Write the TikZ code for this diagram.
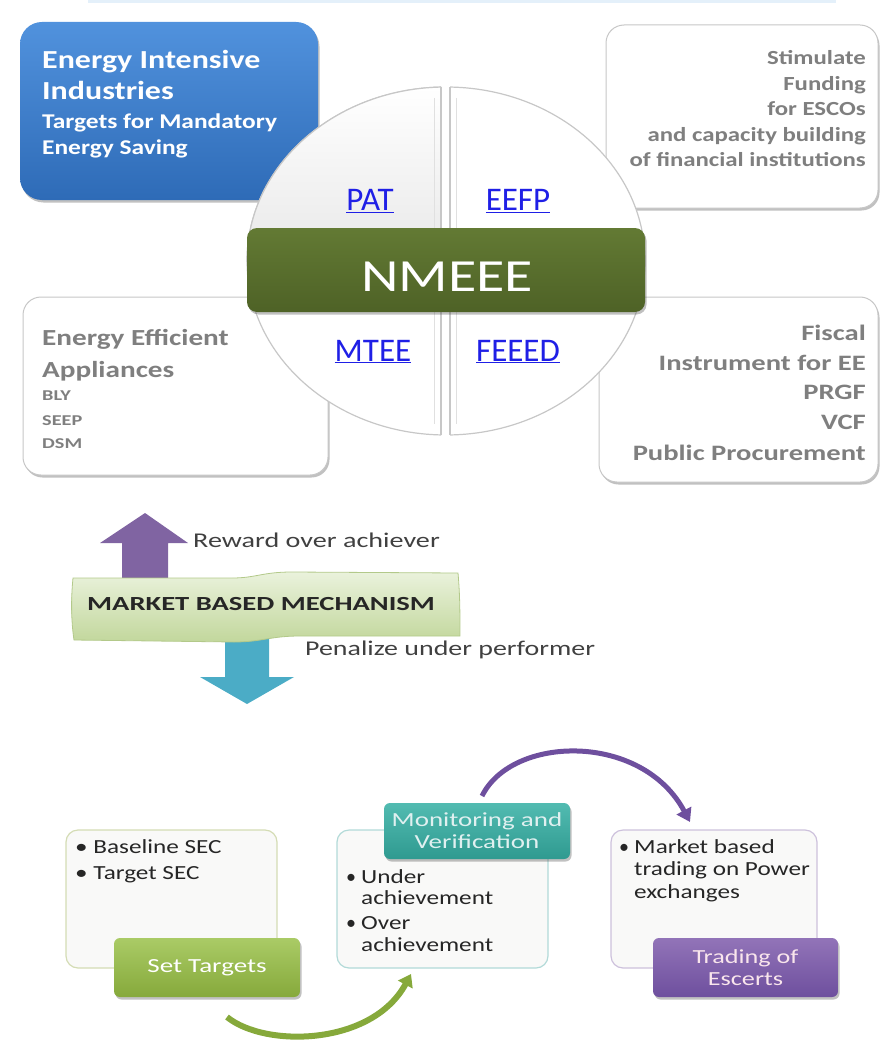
\documentclass[tikz,border=0pt]{standalone}
\usepackage{fontspec}
\usepackage{graphicx}
\setmainfont{Carlito}
\usetikzlibrary{shadows,arrows.meta}
\definecolor{blueA}{HTML}{5192DD}
\definecolor{blueB}{HTML}{2E6BB7}
\definecolor{oliveA}{HTML}{637A34}
\definecolor{oliveB}{HTML}{4E6226}
\definecolor{grnA}{HTML}{AACB66}
\definecolor{grnB}{HTML}{86A93B}
\definecolor{tealA}{HTML}{52BBB1}
\definecolor{tealB}{HTML}{2F9A90}
\definecolor{purA}{HTML}{9274B8}
\definecolor{purB}{HTML}{6E4F9E}
\definecolor{uparrow}{HTML}{8064A2}
\definecolor{downarrow}{HTML}{4BACC6}
\definecolor{graytxt}{HTML}{7F7F7F}
\definecolor{linkblue}{HTML}{1F1FE6}
\definecolor{darktxt}{HTML}{262626}
\definecolor{midtxt}{HTML}{404040}
\definecolor{topline}{HTML}{E4F0FA}
\definecolor{bannerA}{HTML}{EAF2DC}
\definecolor{bannerB}{HTML}{C2D79C}
\definecolor{bannerE}{HTML}{B3C98A}
\definecolor{bOne}{HTML}{D4DCB4}
\definecolor{bTwo}{HTML}{B2DAD8}
\definecolor{bThree}{HTML}{CDC1DC}
\definecolor{boxfill}{HTML}{F9F9F8}
\newcommand\myfs[1]{\fontsize{#1}{#1}\selectfont}
\newcommand\hs[2]{\scalebox{#1}[1]{#2}}
\begin{document}
\begin{tikzpicture}[x=1pt,y=-1pt,
  shad/.style={drop shadow={shadow xshift=1.5pt,shadow yshift=-2.5pt,opacity=0.35,fill=black!70}},
  sidebox/.style={draw=black!22,line width=1pt,fill=white,rounded corners=18pt,shad},
  stepbox/.style={draw=#1,line width=1.2pt,fill=boxfill,rounded corners=12pt},
  colbox/.style={rounded corners=6pt,shad,text=white,font=\myfs{20},align=center,inner sep=0pt},
  wt/.style={inner sep=0pt,text=white},
  gt/.style={inner sep=0pt,text=graytxt,font=\bfseries\myfs{20}},
  dt/.style={inner sep=0pt,text=darktxt,font=\myfs{20}},
  lk/.style={inner sep=0pt,text=linkblue,font=\myfs{33},anchor=base},
  qfill/.style={fill=white,draw=black!22,line width=1.2pt}]
\useasboundingbox (0,0) rectangle (880,1043);
\fill[topline] (88,0) rectangle (836,3);

% ---------- top boxes ----------
\node[rounded corners=22pt,top color=blueA,bottom color=blueB,shad,minimum width=298pt,minimum height=178pt] (eii) at (169,111) {};
\node[wt,anchor=base west,font=\bfseries\myfs{26}] (eii1) at (42,69) {\hs{1.23}{Energy Intensive}};
\node[wt,anchor=base west,font=\bfseries\myfs{26}] (eii2) at (42,100) {\hs{1.23}{Industries}};
\node[wt,anchor=base west,font=\bfseries\myfs{21}] (eii3) at (42,129) {\hs{1.21}{Targets for Mandatory}};
\node[wt,anchor=base west,font=\bfseries\myfs{21}] (eii4) at (42,155) {\hs{1.21}{Energy Saving}};

\node[sidebox,minimum width=272pt,minimum height=183pt] (eefpbox) at (742,116.5) {};
\node[gt,anchor=base east,font=\bfseries\myfs{20}] (s1) at (866,65) {\hs{1.24}{Stimulate}};
\node[gt,anchor=base east,font=\bfseries\myfs{20}] (s2) at (866,90.5) {\hs{1.24}{Funding}};
\node[gt,anchor=base east,font=\bfseries\myfs{20}] (s3) at (866,116) {\hs{1.24}{for ESCOs}};
\node[gt,anchor=base east,font=\bfseries\myfs{20}] (s4) at (866,141.5) {\hs{1.24}{and capacity building}};
\node[gt,anchor=base east,font=\bfseries\myfs{20}] (s5) at (866,167) {\hs{1.24}{of financial institutions}};

\node[sidebox,minimum width=305pt,minimum height=178pt] (mteebox) at (175.5,386) {};
\node[gt,anchor=base west,font=\bfseries\myfs{23}] (a1) at (42,345) {\hs{1.27}{Energy Efficient}};
\node[gt,anchor=base west,font=\bfseries\myfs{23}] (a2) at (42,377) {\hs{1.27}{Appliances}};
\node[gt,anchor=base west,font=\bfseries\myfs{15}] (a3) at (42,400) {\hs{1.35}{BLY}};
\node[gt,anchor=base west,font=\bfseries\myfs{15}] (a4) at (42,425) {\hs{1.35}{SEEP}};
\node[gt,anchor=base west,font=\bfseries\myfs{15}] (a5) at (42,448) {\hs{1.35}{DSM}};

\node[sidebox,minimum width=279pt,minimum height=185pt] (feeedbox) at (738.5,389.5) {};
\node[gt,anchor=base east,font=\bfseries\myfs{22}] (f1) at (866,340) {\hs{1.3}{Fiscal}};
\node[gt,anchor=base east,font=\bfseries\myfs{22}] (f2) at (866,370) {\hs{1.3}{Instrument for EE}};
\node[gt,anchor=base east,font=\bfseries\myfs{22}] (f3) at (866,399) {\hs{1.3}{PRGF}};
\node[gt,anchor=base east,font=\bfseries\myfs{22}] (f4) at (866,429) {\hs{1.3}{VCF}};
\node[gt,anchor=base east,font=\bfseries\myfs{22}] (f5) at (866,460) {\hs{1.3}{Public Procurement}};

% ---------- circle ----------
\begin{scope}
\clip (240,78) rectangle (441,442);
\path[qfill] (446,261) ellipse [x radius=199pt,y radius=174pt];
\end{scope}
\begin{scope}
\clip (240,78) rectangle (441,261);
\path[top color=white,bottom color=black!18] (446,261) ellipse [x radius=199pt,y radius=174pt];
\draw[black!22,line width=1.2pt] (446,261) ellipse [x radius=199pt,y radius=174pt];
\end{scope}
\begin{scope}
\clip (450,78) rectangle (652,442);
\path[qfill] (446,261) ellipse [x radius=199pt,y radius=174pt];
\end{scope}
\draw[black!22,line width=1.2pt] (441,87) -- (441,435);
\draw[black!22,line width=1.2pt] (450,87) -- (450,435);
\draw[black!12,line width=1pt] (434,98) -- (434,424);
\draw[black!12,line width=1pt] (456,98) -- (456,424);

\node[lk] (pat) at (370,211) {\underline{PAT}};
\node[lk] (eefp) at (518,211) {\underline{EEFP}};
\node[lk] (mtee) at (373,361) {\underline{MTEE}};
\node[lk] (feeed) at (518,361) {\underline{FEEED}};

\node[rounded corners=10pt,top color=oliveA,bottom color=oliveB,shad,minimum width=398pt,minimum height=84pt] (bar) at (446,270) {};
\node[wt,anchor=base,font=\myfs{46}] (nmeee) at (447,291) {\hs{1.26}{NMEEE}};

% ---------- market based mechanism ----------
\fill[uparrow] (122,580) -- (122,543) -- (100,543) -- (145,513) -- (188,543) -- (168,543) -- (168,580) -- cycle;
\fill[downarrow] (225,630) -- (225,677) -- (200,677) -- (247,704) -- (294,677) -- (269,677) -- (269,630) -- cycle;
\path[top color=bannerA,bottom color=bannerB,draw=bannerE,line width=0.8pt]
  (73,578) -- (232,578) .. controls (256,578) and (262,572) .. (292,572) -- (458,573)
  .. controls (460,595) and (460,615) .. (460,636) -- (300,636)
  .. controls (270,636) and (262,642) .. (234,642) -- (74,640)
  .. controls (71,620) and (71,598) .. (73,578) -- cycle;
\node[inner sep=0pt,text=midtxt,font=\myfs{21},anchor=base west] (rew) at (193,547) {\hs{1.34}{Reward over achiever}};
\node[inner sep=0pt,text=darktxt,font=\bfseries\myfs{20},anchor=base west] (mbm) at (87,610) {\hs{1.43}{MARKET BASED MECHANISM}};
\node[inner sep=0pt,text=midtxt,font=\myfs{21},anchor=base west] (pen) at (305,655) {\hs{1.33}{Penalize under performer}};

% ---------- bottom process ----------
\node[stepbox=bOne,minimum width=211pt,minimum height=138pt] (b1) at (171.5,899) {};
\node[stepbox=bTwo,minimum width=211pt,minimum height=138pt] (b2) at (442.5,899) {};
\node[stepbox=bThree,minimum width=206pt,minimum height=138pt] (b3) at (714,899) {};

\node[dt,anchor=base west] (t1) at (75,853) {\hs{1.26}{\textbullet\ Baseline SEC}};
\node[dt,anchor=base west] (t2) at (75,879) {\hs{1.26}{\textbullet\ Target SEC}};
\node[dt,anchor=base west] (u0) at (346,883) {\textbullet};
\node[dt,anchor=base west] (u1) at (361,883) {\hs{1.26}{Under}};
\node[dt,anchor=base west] (u2) at (361,904) {\hs{1.26}{achievement}};
\node[dt,anchor=base west] (o0) at (346,929) {\textbullet};
\node[dt,anchor=base west] (o1) at (361,929) {\hs{1.26}{Over}};
\node[dt,anchor=base west] (o2) at (361,951) {\hs{1.26}{achievement}};
\node[dt,anchor=base west] (m0) at (619,853) {\textbullet};
\node[dt,anchor=base west] (m1) at (634,853) {\hs{1.26}{Market based}};
\node[dt,anchor=base west] (m2) at (634,875) {\hs{1.26}{trading on Power}};
\node[dt,anchor=base west] (m3) at (634,898) {\hs{1.26}{exchanges}};

\node[colbox,top color=grnA,bottom color=grnB,minimum width=186pt,minimum height=59pt] (st) at (207,967.5) {\hs{1.35}{Set Targets}};
\node[colbox,top color=tealA,bottom color=tealB,minimum width=186pt,minimum height=56pt,text=white!88!teal] (mv) at (477,831) {\hs{1.35}{Monitoring and}\\[2pt]\hs{1.35}{Verification}};
\node[colbox,top color=purA,bottom color=purB,minimum width=185pt,minimum height=59pt,text=white!90!purple] (te) at (745.5,967.5) {\hs{1.31}{Trading of}\\[2pt]\hs{1.31}{Escerts}};

\coordinate (g1) at (227,1017);
\coordinate (g2) at (411,974);
\draw[grnB,line width=6pt,-{Triangle[width=16pt,length=12pt]}] (g1) .. controls (265,1048) and (372,1046) .. (g2);
\coordinate (p1) at (482,796);
\coordinate (p2) at (690,822);
\draw[purB,line width=5pt,-{Triangle[width=16pt,length=13pt]}] (p1) .. controls (512,735) and (642,732) .. (p2);
\end{tikzpicture}
\end{document}
